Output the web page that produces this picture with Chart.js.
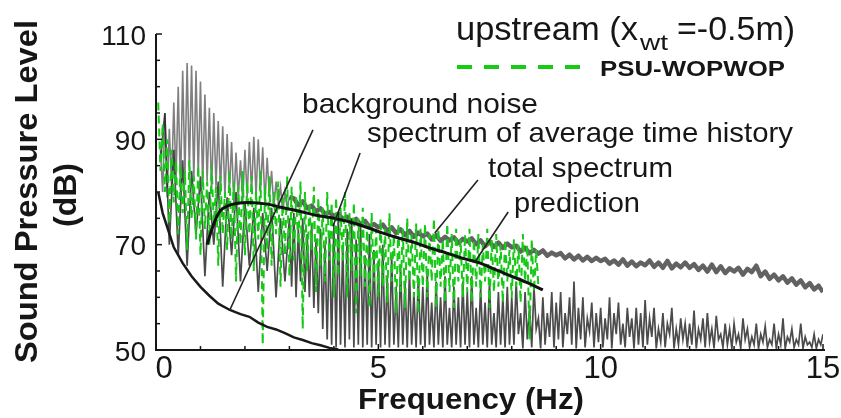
<!DOCTYPE html>
<html>
<head>
<meta charset="utf-8">
<script src="https://cdn.jsdelivr.net/npm/chart.js@4.4.1/dist/chart.umd.min.js"></script>
<style>
  html, body { margin: 0; padding: 0; background: #fff; overflow: hidden; }
  canvas { display: block; }
</style>
</head>
<body>
<canvas id="spl" width="841" height="418"></canvas>
<script>
// Axis ticks
const freqTicks = [0, 5, 10, 15];        // Hz
const levelTicks = [50, 70, 90, 110];    // dB

// Total spectrum: 0.1–3.0 Hz in 0.05 Hz bins
const totalLowStart = 0.1, totalLowBin = 0.05;
const totalLowLevels = [
  88, 80, 95, 79, 92, 81, 97, 82, 100, 80,
  103, 83, 104.5, 84, 104, 82, 103, 83, 101, 81,
  98.5, 82, 96, 80, 95, 81, 93.5, 80, 92.5, 79,
  91, 80, 89.5, 78, 87.5, 79, 86, 78, 88, 79,
  89.5, 80, 90.5, 79, 90, 80, 88.5, 78, 86.5, 79,
  84, 77, 82, 78, 81, 76, 80, 77, 79
];
// Total spectrum: 3.1–15 Hz in 0.1 Hz bins
const totalHighStart = 3.1, totalHighBin = 0.1;
const totalHighLevels = [
  78.8, 77.5, 78.2, 76.9, 77.4, 76.3, 76.9, 75.8, 76.2, 75.4,
  75.9, 74.8, 75.3, 74.2, 74.9, 73.8, 74.5, 73.4, 73.9, 73.3,
  73.8, 72.6, 73.3, 72.2, 72.9, 71.8, 72.6, 71.5, 72.3, 71.6,
  72.1, 71.0, 71.8, 70.7, 71.5, 70.8, 71.4, 70.3, 71.1, 70.6,
  71.2, 70.1, 70.8, 69.7, 70.5, 69.6, 70.4, 69.4, 70.2, 69.5,
  69.8, 68.7, 69.4, 68.4, 69.0, 68.3, 68.9, 67.9, 68.5, 68.0,
  68.4, 67.4, 68.1, 67.2, 67.9, 67.0, 67.7, 66.9, 67.5, 66.9,
  67.3, 66.4, 67.0, 66.2, 67.2, 66.0, 66.8, 65.9, 66.6, 66.1,
  67.0, 65.8, 66.6, 65.6, 66.9, 65.5, 66.4, 65.7, 66.6, 65.6,
  66.3, 65.2, 66.0, 64.9, 66.2, 64.8, 65.9, 64.6, 65.5, 64.9,
  65.6, 64.3, 65.4, 64.8, 66.0, 64.0, 64.9, 63.5, 64.3, 63.2,
  64.0, 62.8, 63.6, 62.4, 63.2, 61.9, 62.7, 61.5, 62.2, 61.0
];

// Spectrum of average time history: 0.1–2.9 Hz in 0.1 Hz bins
const avgLowStart = 0.1, avgLowBin = 0.1;
const avgLowLevels = [
  86, 95, 70, 88, 68, 86, 66, 84, 72, 83,
  64, 80, 70, 82, 62, 79, 68, 80, 63, 78,
  66, 77, 61, 76, 65, 77, 60, 75, 63
];
// Spectrum of average time history: 3.0–15 Hz in 0.05 Hz bins
const avgHighStart = 3.0, avgHighBin = 0.05;
const avgHighLevels = [
  75, 62, 76, 60, 73, 63, 75, 61, 72, 60, 74, 58, 71, 57, 73, 54, 70, 52, 72, 51,
  74, 50.5, 76, 51, 70, 50.5, 73, 52, 75, 50.5, 71, 51, 74, 50.5, 68, 51, 72, 50.5, 69, 51,
  67, 50.5, 70, 51, 64, 50.5, 68, 51, 62, 50.5, 66, 51, 63, 50.5, 65, 51, 61, 50.5, 64, 51,
  62, 50.5, 65, 51, 59, 50.5, 63, 51, 60, 50.5, 64, 51, 58, 50.5, 62, 51, 60, 50.5, 63, 51,
  61, 50.5, 64, 51, 58, 50.5, 62, 51, 59, 50.5, 63, 51, 57, 50.5, 61, 51, 60, 50.5, 62, 51,
  60, 51, 63, 53, 57, 50.3, 61, 52, 58, 50.5, 62, 54, 56, 50.3, 60, 51, 57, 52.5, 61, 50.5,
  59, 52, 61, 50.5, 57, 53, 60, 51, 63, 50.3, 58, 52, 60, 50.5, 56, 53.5, 59, 50.5, 57, 51.5,
  58, 50.5, 56, 52, 60, 50.3, 57, 53, 59, 51, 55, 50.5, 58, 52.5, 56, 50.3, 58, 51, 57, 50.5,
  59.5, 51, 56, 52.5, 58, 50.3, 54, 51.5, 57, 50.5, 55, 53, 58, 50.3, 54, 51, 56, 52, 55, 50.5,
  55, 51, 57.5, 50.3, 54, 52, 56, 50.5, 57, 51.5, 54, 50.3, 56.5, 52, 53, 50.5, 55, 51, 54, 50.3,
  55, 51.5, 53, 50.3, 56, 52, 54, 50.5, 52.5, 51, 55, 50.3, 53, 51.5, 54.5, 50.5, 52, 51, 55, 50.3,
  53, 51, 56, 50.3, 52.5, 51.5, 54, 50.5, 52, 51, 55, 50.3, 52.5, 51, 51.5, 50.5, 53, 50.3, 52, 51,
  53
];

// PSU-WOPWOP prediction: 0.05–8.6 Hz in 0.05 Hz bins
const wopStart = 0.05, wopBin = 0.05;
const wopLevels = [
  97, 84, 93, 80, 90, 74, 88, 78, 86, 72, 85, 76, 84, 69, 86, 75, 83, 71, 85, 68,
  84, 73, 82, 70, 85, 74, 81, 66, 83, 72, 80, 69, 84, 71, 82, 63, 81, 70, 84, 68,
  82, 72, 83, 65, 80, 71, 84, 51, 81, 69, 83, 66, 80, 72, 82, 62, 79, 68, 83, 64,
  81, 67, 79, 70, 82, 54, 80, 65, 78, 69, 81, 61, 79, 66, 77, 63, 80, 67, 78, 60,
  79, 64, 77, 67, 80, 60, 76, 65, 78, 57, 75, 64, 77, 62, 74, 58, 76, 63, 73, 60,
  75, 62, 73, 59, 76, 63, 72, 57, 74, 61, 73, 58, 75, 63, 72, 60, 74, 57, 73, 62,
  74, 60, 72, 63, 75, 58, 73, 62, 71, 59, 74, 61, 72, 58, 73, 63, 71, 60, 72, 61,
  73, 59, 71, 62, 72, 60, 70, 63, 73, 58, 71, 61, 72, 62, 70, 59, 71, 63, 69, 60,
  71, 62, 70, 59, 72, 63, 70, 52, 71, 61, 69, 62
];

// Background noise
const bgFreq  = [0.05, 0.15, 0.25, 0.4, 0.6, 0.8, 1.0, 1.2, 1.4, 1.66, 1.9, 2.1, 2.3, 2.5, 2.7, 2.9, 3.1, 3.3, 3.5, 3.7, 3.9, 4.1];
const bgLevel = [80, 76, 73.4, 69.5, 66.5, 64, 62, 60.3, 58.8, 57.6, 56.8, 56.3, 55.2, 54.4, 53.9, 53.2, 52.4, 51.9, 51.3, 50.9, 50.4, 50.1];

// Prediction
const predFreq  = [1.15, 1.25, 1.35, 1.45, 1.6, 1.8, 2.1, 2.5, 2.86, 3.2, 3.6, 4.0, 4.36, 4.7, 5.07, 5.4, 5.78, 6.15, 6.54, 6.9, 7.29, 7.65, 8.03, 8.4, 8.7];
const predLevel = [70, 72.8, 75, 76.5, 77.3, 77.8, 78, 77.7, 77, 76.4, 75.6, 75, 74.3, 73.4, 72.3, 71.4, 70.5, 69.4, 68.4, 67.4, 66.5, 65.2, 63.9, 62.6, 61.4];

// Spectrum bins -> {x, y} points
function binned(start, bin, levels) {
  return levels.map((v, i) => ({ x: +(start + i * bin).toFixed(3), y: v }));
}
function paired(xs, ys) {
  return xs.map((f, i) => ({ x: f, y: ys[i] }));
}

const FONT = '"Liberation Sans", Arial, Helvetica, sans-serif';
const INK = '#161616';

// Draw text squeezed/stretched to a given width
function fitText(ctx, str, x, y, width, font, align) {
  ctx.font = font;
  const w = ctx.measureText(str).width;
  const sx = width / w;
  let left = x;
  if (align === 'center') left = x - width / 2;
  if (align === 'right') left = x - width;
  ctx.save();
  ctx.translate(left, y);
  ctx.scale(sx, 1);
  ctx.textAlign = 'left';
  ctx.fillText(str, 0, 0);
  ctx.restore();
}

const decor = {
  id: 'decor',
  beforeDraw(chart) {
    const c = chart.ctx;
    c.save();
    c.fillStyle = '#ffffff';
    c.fillRect(0, 0, chart.width, chart.height);
    c.restore();
  },
  afterDatasetsDraw(chart) {
    const ctx = chart.ctx;
    const xs = chart.scales.x, ys = chart.scales.y;
    const px = v => xs.getPixelForValue(v);
    const py = v => ys.getPixelForValue(v);
    const x0 = px(0), x1 = px(15), yTop = py(110), yBot = py(50);

    ctx.save();
    ctx.strokeStyle = INK;
    ctx.lineCap = 'butt';

    // axis lines
    ctx.lineWidth = 2;
    ctx.beginPath();
    ctx.moveTo(x0, yTop);
    ctx.lineTo(x0, yBot);
    ctx.lineTo(x1 + 2, yBot);
    ctx.stroke();

    // inward ticks on the level axis (every 5 dB)
    ctx.lineWidth = 1.5;
    for (let v = 50; v <= 110; v += 5) {
      const len = levelTicks.includes(v) ? 6 : 4;
      ctx.beginPath();
      ctx.moveTo(x0, py(v));
      ctx.lineTo(x0 + len, py(v));
      ctx.stroke();
    }
    // inward ticks on the frequency axis (every 1 Hz)
    for (let f = 1; f <= 15; f += 1) {
      const len = freqTicks.includes(f) ? 6 : 4;
      ctx.beginPath();
      ctx.moveTo(px(f), yBot);
      ctx.lineTo(px(f), yBot - len);
      ctx.stroke();
    }

    // tick labels
    ctx.fillStyle = INK;
    ctx.textBaseline = 'middle';
    ctx.font = '28px ' + FONT;
    ctx.textAlign = 'right';
    levelTicks.forEach(v => ctx.fillText(String(v), x0 - 10, py(v) + 3));
    ctx.font = '31px ' + FONT;
    ctx.textAlign = 'center';
    freqTicks.forEach(f => ctx.fillText(String(f), px(f) + (f === 0 ? 8 : 0), yBot + 19));

    // leader lines from the curve labels (Hz, dB)
    const leaders = [
      [3.53, 91.8, 1.66, 57.6],
      [4.59, 87.4, 3.98, 73.5],
      [7.24, 82.3, 6.27, 72.2],
      [7.92, 76.2, 7.17, 66.7]
    ];
    ctx.lineWidth = 1.6;
    ctx.strokeStyle = '#222';
    leaders.forEach(([fa, la, fb, lb]) => {
      ctx.beginPath();
      ctx.moveTo(px(fa), py(la));
      ctx.lineTo(px(fb), py(lb));
      ctx.stroke();
    });

    // curve labels
    ctx.textBaseline = 'alphabetic';
    ctx.fillStyle = INK;
    fitText(ctx, 'background noise', 302, 113, 236, '28px ' + FONT);
    fitText(ctx, 'spectrum of average time history', 367, 142, 426, '28px ' + FONT);
    fitText(ctx, 'total spectrum', 488, 177, 185, '28px ' + FONT);
    fitText(ctx, 'prediction', 514, 212, 126, '28px ' + FONT);

    // heading
    fitText(ctx, 'upstream (x', 456, 40, 182, '33px ' + FONT);
    fitText(ctx, 'wt', 640, 50, 28, '22px ' + FONT);
    fitText(ctx, '=-0.5m)', 677, 40, 118, '33px ' + FONT);

    // legend
    ctx.fillStyle = '#ffffff';
    ctx.fillRect(455, 50, 133, 32);
    ctx.strokeStyle = '#14cc14';
    ctx.lineWidth = 4;
    ctx.setLineDash([15, 12]);
    ctx.beginPath();
    ctx.moveTo(457, 67);
    ctx.lineTo(584, 67);
    ctx.stroke();
    ctx.setLineDash([]);
    ctx.fillStyle = INK;
    fitText(ctx, 'PSU-WOPWOP', 600, 76, 185, 'bold 22px ' + FONT);

    // axis titles
    ctx.save();
    ctx.translate(37, 191.5);
    ctx.rotate(-Math.PI / 2);
    fitText(ctx, 'Sound Pressure Level', 0, 0, 343, 'bold 32px ' + FONT, 'center');
    ctx.restore();
    ctx.save();
    ctx.translate(76, 195);
    ctx.rotate(-Math.PI / 2);
    fitText(ctx, '(dB)', 0, 0, 64, 'bold 32px ' + FONT, 'center');
    ctx.restore();
    fitText(ctx, 'Frequency (Hz)', 471, 409, 226, 'bold 30px ' + FONT, 'center');

    ctx.restore();
  }
};

new Chart(document.getElementById('spl'), {
  type: 'line',
  data: {
    datasets: [
      {
        label: 'total spectrum',
        data: binned(totalLowStart, totalLowBin, totalLowLevels),
        borderColor: 'rgba(105,105,105,0.85)',
        borderWidth: 1.6,
        order: 6
      },
      {
        label: 'total spectrum (upper band)',
        data: [{ x: 3.0, y: totalLowLevels[totalLowLevels.length - 1] }]
          .concat(binned(totalHighStart, totalHighBin, totalHighLevels)),
        borderColor: 'rgba(70,70,70,0.85)',
        borderWidth: 4.5,
        borderJoinStyle: 'round',
        order: 5
      },
      {
        label: 'spectrum of average time history',
        data: binned(avgLowStart, avgLowBin, avgLowLevels)
          .concat(binned(avgHighStart, avgHighBin, avgHighLevels)),
        borderColor: 'rgba(30,30,30,0.8)',
        borderWidth: 1.7,
        order: 4
      },
      {
        label: 'PSU-WOPWOP',
        data: binned(wopStart, wopBin, wopLevels),
        borderColor: '#18c818',
        borderWidth: 2,
        borderDash: [8, 5],
        order: 3
      },
      {
        label: 'background noise',
        data: paired(bgFreq, bgLevel),
        borderColor: '#1a1a1a',
        borderWidth: 2.5,
        order: 2
      },
      {
        label: 'prediction',
        data: paired(predFreq, predLevel),
        borderColor: '#111',
        borderWidth: 3,
        cubicInterpolationMode: 'monotone',
        order: 1
      }
    ]
  },
  options: {
    responsive: false,
    animation: false,
    events: [],
    layout: { padding: { top: 34, right: 18, left: 0, bottom: 0 } },
    elements: { point: { radius: 0 }, line: { tension: 0 } },
    plugins: { legend: { display: false }, tooltip: { enabled: false } },
    scales: {
      x: {
        type: 'linear', min: 0, max: 15,
        ticks: { display: false, stepSize: 5 },
        grid: { display: false },
        border: { display: false },
        afterFit(s) { s.height = 68; }
      },
      y: {
        type: 'linear', min: 50, max: 110,
        ticks: { display: false, stepSize: 20 },
        grid: { display: false },
        border: { display: false },
        afterFit(s) { s.width = 156; }
      }
    }
  },
  plugins: [decor]
});
</script>
</body>
</html>
